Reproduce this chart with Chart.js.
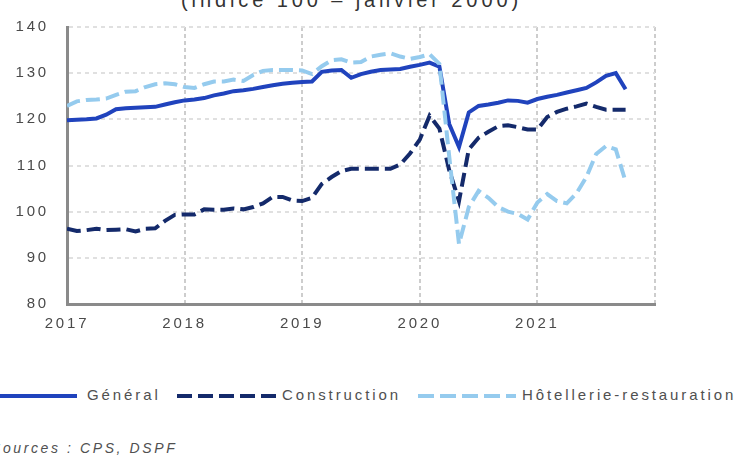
<!DOCTYPE html>
<html lang="fr">
<head>
<meta charset="utf-8">
<script src="https://cdn.jsdelivr.net/npm/chart.js@4/dist/chart.umd.min.js"></script>
<style>
  html, body { margin: 0; padding: 0; background: #fff; }
  body { width: 736px; height: 457px; position: relative; overflow: hidden; font-family: 'Liberation Sans', Arial, sans-serif; color: #505050; }
  #zone { position: absolute; left: 0; top: 0; width: 736px; height: 345px; }
  .titre { position: absolute; left: 181px; top: -10px; font-size: 20px; line-height: 20px; letter-spacing: 3.9px; color: #333; white-space: nowrap; }
  .trait { position: absolute; top: 394px; height: 4px; }
  .texte { position: absolute; top: 387px; font-size: 15px; line-height: 15px; letter-spacing: 2.9px; white-space: nowrap; }
  .source { position: absolute; left: -9px; top: 441px; font-size: 14px; line-height: 14px; letter-spacing: 2.6px; font-style: italic; white-space: nowrap; }
</style>
</head>
<body>
<div class="titre">(indice 100 – janvier 2000)</div>
<div id="zone"><canvas id="graphique"></canvas></div>

<!-- légende faite à la main, elle déborde des deux côtés comme sur l'original -->
<div class="trait" style="left:-10px; width:87px; background:#2043bd;"></div>
<div class="texte" style="left:87px;">Général</div>
<div class="trait" style="left:177px; width:100px; background:repeating-linear-gradient(90deg, #142a6b 0 15px, transparent 15px 21px);"></div>
<div class="texte" style="left:282px;">Construction</div>
<div class="trait" style="left:418px; width:98px; background:repeating-linear-gradient(90deg, #95cbee 0 16px, transparent 16px 22px);"></div>
<div class="texte" style="left:522px;">Hôtellerie-restauration</div>

<div class="source">Sources : CPS, DSPF</div>

<script>
// Années affichées sur l'axe (une graduation tous les 12 mois)
const annees = [2017, 2018, 2019, 2020, 2021];
const debut = annees[0];

// Valeurs mensuelles, de janvier 2017 à octobre 2021
const general = [
  119.8, 119.9, 120.0, 120.2, 121.0, 122.2, 122.4, 122.5, 122.6, 122.7, 123.2, 123.7,
  124.1, 124.3, 124.6, 125.2, 125.6, 126.1, 126.3, 126.6, 127.0, 127.4, 127.7, 127.9,
  128.1, 128.2, 130.3, 130.6, 130.7, 129.0, 129.8, 130.3, 130.7, 130.8, 130.9, 131.4,
  131.8, 132.3, 131.4, 119.0, 114.0, 121.5, 122.9, 123.2, 123.6, 124.1, 124.0, 123.6,
  124.4, 124.9, 125.3, 125.8, 126.3, 126.8, 128.0, 129.4, 130.0, 126.5
];
const construction = [
  96.3, 95.8, 96.0, 96.3, 96.0, 96.1, 96.2, 95.7, 96.3, 96.4, 98.0, 99.3,
  99.4, 99.4, 100.5, 100.4, 100.4, 100.7, 100.5, 101.0, 101.8, 103.2, 103.2, 102.4,
  102.3, 103.0, 106.0, 107.5, 108.8, 109.3, 109.3, 109.3, 109.3, 109.3, 110.2, 112.6,
  115.6, 120.8, 118.0, 109.0, 102.3, 113.5, 116.0, 117.3, 118.5, 118.7, 118.3, 117.8,
  117.8, 120.5, 121.6, 122.3, 122.8, 123.4, 122.7, 122.1, 122.1, 122.1
];
const hotellerie = [
  122.9, 123.9, 124.2, 124.3, 124.5, 125.3, 126.0, 126.1, 127.0, 127.6, 127.8, 127.6,
  127.0, 126.8, 127.6, 128.2, 128.2, 128.6, 128.3, 129.6, 130.5, 130.7, 130.7, 130.7,
  130.6, 129.8, 131.5, 132.8, 133.0, 132.3, 132.4, 133.6, 134.0, 134.3, 133.6, 133.1,
  133.5, 134.1, 132.0, 112.0, 93.0, 101.0, 104.5, 103.0, 101.0, 100.0, 99.5, 98.3,
  102.0, 103.8, 102.3, 101.8, 104.0, 107.5, 112.5, 114.2, 113.5, 106.5
];

// x = nombre de mois depuis janvier 2017
const enPoints = (serie) => serie.map((v, i) => ({ x: i, y: v }));

const police = { family: "'Liberation Sans', Arial, sans-serif", size: 15 };

// Chart.js ne gère pas l'espacement des lettres, on le pose sur le contexte
const espacement = {
  id: 'espacement',
  beforeDraw(chart) { chart.ctx.letterSpacing = '2.8px'; }
};

new Chart(document.getElementById('graphique'), {
  type: 'line',
  data: {
    datasets: [
      { label: 'Général', data: enPoints(general), borderColor: '#2043bd', borderWidth: 4, pointRadius: 0, tension: 0, order: 3 },
      { label: 'Construction', data: enPoints(construction), borderColor: '#142a6b', borderWidth: 4, borderDash: [14, 6], pointRadius: 0, tension: 0, order: 2 },
      { label: 'Hôtellerie-restauration', data: enPoints(hotellerie), borderColor: '#95cbee', borderWidth: 4, borderDash: [14, 6], pointRadius: 0, tension: 0, order: 1 }
    ]
  },
  options: {
    responsive: true,
    maintainAspectRatio: false,
    animation: false,
    layout: { padding: { top: 19, right: 81, left: 0, bottom: 0 } },
    plugins: { legend: { display: false }, tooltip: { enabled: false } },
    scales: {
      x: {
        type: 'linear',
        min: 0,
        max: annees.length * 12,
        ticks: {
          stepSize: 12,
          padding: 11,
          autoSkip: false,
          maxRotation: 0,
          color: '#4a4a4a',
          font: police,
          callback: (v) => (v < annees.length * 12 ? String(debut + v / 12) : '')
        },
        grid: { color: '#cdcdcd', lineWidth: 2, drawTicks: false },
        border: { color: '#8a8a8a', width: 3, dash: [4, 3] },
        afterFit: (s) => { s.height = 41; }
      },
      y: {
        min: 80,
        max: 140,
        ticks: { stepSize: 10, padding: 18, color: '#4a4a4a', font: police },
        grid: { color: '#e0e0e0', lineWidth: 2, drawTicks: false },
        border: { color: '#8a8a8a', width: 3, dash: [4, 4] },
        afterFit: (s) => { s.width = 67; }
      }
    }
  },
  plugins: [espacement]
});
</script>
</body>
</html>
